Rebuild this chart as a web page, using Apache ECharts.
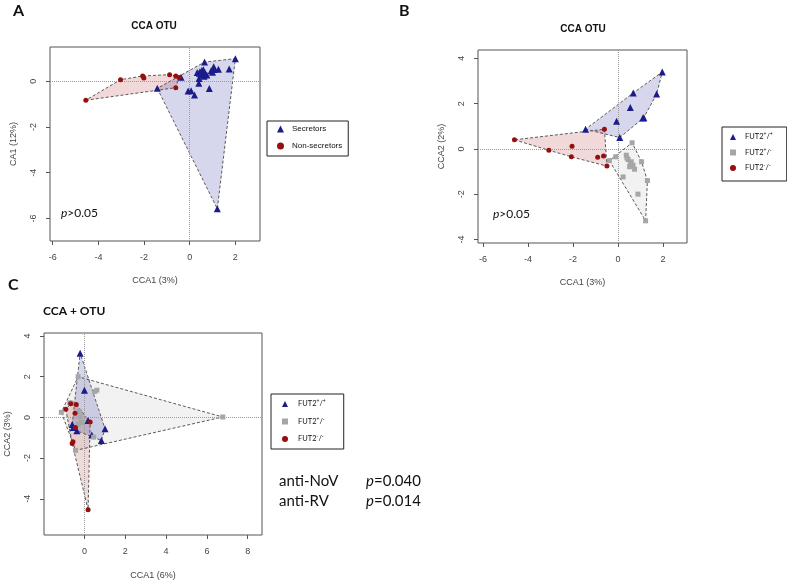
<!DOCTYPE html>
<html>
<head>
<meta charset="utf-8">
<script src="https://cdn.jsdelivr.net/npm/echarts@6/dist/echarts.min.js"></script>
<style>
  html, body { margin: 0; padding: 0; background: #fff; }
  #main { width: 787px; height: 581px; }
</style>
</head>
<body>
<div id="main"></div>
<script>
// ---- panel A: CCA OTU, secretor status ----
var secretorsA = [[2.0,0.99],[0.65,0.84],[-1.42,-0.31],[-0.38,0.18],[1.21,-5.58],[0.45,0.42],[0.53,0.47],
  [0.60,0.50],[0.42,0.35],[0.67,0.35],[0.75,0.28],[0.41,0.12],[0.40,-0.09],[-0.07,-0.43],[0.06,-0.41],
  [0.21,-0.60],[0.86,-0.32],[1.05,0.64],[1.08,0.52],[1.26,0.53],[1.0,0.40],[1.73,0.54],[0.94,0.46],
  [0.33,0.38],[0.52,0.28],[0.63,0.22],[0.57,0.38],[0.48,0.33]];
var nonSecretorsA = [[-4.55,-0.83],[-3.03,0.07],[-2.06,0.23],[-2.01,0.14],[-0.88,0.29],[-0.61,0.23],
  [-0.61,-0.28],[-0.47,0.17]];

// ---- panel B: CCA OTU, FUT2 genotype ----
var posPosB = [[1.97,3.40],[0.68,2.47],[1.72,2.42],[0.55,1.83],[-0.06,1.22],[1.11,1.37],[1.15,1.38],
  [0.08,0.50],[-1.44,0.87]];
var posNegB = [[0.63,0.27],[-0.38,-0.52],[-0.10,-0.35],[0.37,-0.28],[0.45,-0.47],[0.59,-0.57],[0.67,-0.72],
  [0.74,-0.90],[0.52,-0.79],[1.05,-0.57],[1.31,-1.40],[0.89,-2.0],[1.23,-3.18],[0.23,-1.24],[0.40,-0.40],
  [0.55,-0.65]];
var negNegB = [[-4.6,0.40],[-3.07,-0.06],[-2.04,0.12],[-2.07,-0.35],[-0.90,-0.37],[-0.64,-0.32],
  [-0.60,0.87],[-0.49,-0.76]];

// ---- panel C: CCA + OTU ----
var posPosC = [[-0.21,3.16],[0.0,1.33],[0.18,-0.15],[1.01,-0.56],[0.83,-1.13],[0.36,-0.87],[-0.60,-0.35],
  [-0.55,-0.50],[-0.37,-0.66]];
var posNegC = [[6.78,0.02],[-0.31,2.0],[0.61,1.34],[0.50,1.27],[-1.13,0.25],[-0.72,0.72],[-0.60,0.70],
  [-0.43,-1.62],[0.45,-0.97],[-0.21,0.02],[-0.15,-0.25],[-0.30,-0.35],[-0.25,0.30]];
var negNegC = [[0.18,-4.54],[-0.91,0.40],[-0.40,0.63],[-0.46,0.21],[0.28,-0.23],[-0.60,-1.28],
  [-0.56,-1.20],[-0.44,-0.50],[-0.67,0.67]];

// tick labels
var ticksAx = [-6,-4,-2,0,2], ticksAy = [-6,-4,-2,0];
var ticksBx = [-6,-4,-2,0,2], ticksBy = [-4,-2,0,2,4];
var ticksCx = [0,2,4,6,8],    ticksCy = [-4,-2,0,2,4];

var groupA = ['Secretors', 'Non-secretors'];
var groupFut = ['FUT2+/+', 'FUT2+/-', 'FUT2-/-'];
var statsC = [['anti-NoV', '0.040'], ['anti-RV', '0.014']];

var BLUE = '#1b1b8a', RED = '#960f0f', GREY = '#a6a6a6';
var AX = 'Liberation Sans', CAL = 'Lato';

// convex hull (monotone chain)
function hull(pts) {
  var p = pts.slice().sort(function (a, b) { return a[0] - b[0] || a[1] - b[1]; });
  function cross(o, a, b) { return (a[0]-o[0])*(b[1]-o[1]) - (a[1]-o[1])*(b[0]-o[0]); }
  var lo = [], up = [];
  p.forEach(function (q) {
    while (lo.length >= 2 && cross(lo[lo.length-2], lo[lo.length-1], q) <= 0) lo.pop();
    lo.push(q);
  });
  p.slice().reverse().forEach(function (q) {
    while (up.length >= 2 && cross(up[up.length-2], up[up.length-1], q) <= 0) up.pop();
    up.push(q);
  });
  lo.pop(); up.pop();
  return lo.concat(up);
}

function hullSeries(pts, idx, fill) {
  var h = hull(pts);
  return {
    type: 'custom', xAxisIndex: idx, yAxisIndex: idx, silent: true, z: 1,
    data: [h[0]],
    renderItem: function (params, api) {
      return {
        type: 'polygon',
        shape: { points: h.map(function (q) { return api.coord(q); }) },
        style: { fill: fill, stroke: '#5a5a5a', lineWidth: 1, lineDash: [3, 2] }
      };
    }
  };
}

function pts(name, data, idx, symbol, size, color, cross) {
  var s = {
    name: name, type: 'scatter', xAxisIndex: idx, yAxisIndex: idx, z: 3,
    symbol: symbol, symbolSize: size, data: data,
    itemStyle: { color: color, opacity: 1 }
  };
  if (cross) {
    s.markLine = {
      silent: true, symbol: 'none', label: { show: false }, z: 2,
      lineStyle: { color: '#9a9a9a', type: 'dotted', width: 1 },
      data: [{ xAxis: 0 }, { yAxis: 0 }]
    };
  }
  return s;
}

function xAx(idx, min, max, ticks, name, gap) {
  return {
    type: 'value', gridIndex: idx, min: min, max: max,
    name: name, nameLocation: 'middle', nameGap: gap,
    nameTextStyle: { fontFamily: AX, fontSize: 9, color: '#444' },
    axisLine: { show: false, onZero: false },
    splitLine: { show: false },
    axisTick: { show: true, customValues: ticks, length: 4, lineStyle: { color: '#555' } },
    axisLabel: { customValues: ticks, fontFamily: AX, fontSize: 9, color: '#444', margin: 12 }
  };
}
function yAx(idx, min, max, ticks, name, gap) {
  var a = xAx(idx, min, max, ticks, name, gap);
  a.axisLabel.rotate = 90;
  a.axisLabel.margin = 12;
  return a;
}

function futFmt(name) {
  var a = name.charAt(4), b = name.charAt(6);
  return '{b|FUT2}{s|' + (a === '+' ? '+' : '-') + '}{b|/}{s|' + (b === '+' ? '+' : '-') + '}';
}
var futRich = {
  b: { fontFamily: CAL, fontSize: 7.5, color: '#111', lineHeight: 10 },
  s: { fontFamily: CAL, fontSize: 5, color: '#111', verticalAlign: 'top', lineHeight: 6 }
};

var chart = echarts.init(document.getElementById('main'));
chart.setOption({
  animation: false,
  backgroundColor: '#fff',
  grid: [
    { left: 50, top: 47, width: 210, height: 194, show: true, borderColor: '#555', borderWidth: 1 },
    { left: 478, top: 50, width: 209, height: 193, show: true, borderColor: '#555', borderWidth: 1 },
    { left: 44, top: 333, width: 218, height: 202, show: true, borderColor: '#555', borderWidth: 1 }
  ],
  xAxis: [
    xAx(0, -6.12, 3.08, ticksAx, 'CCA1 (3%)', 35),
    xAx(1, -6.22, 3.07, ticksBx, 'CCA1 (3%)', 35),
    xAx(2, -1.98, 8.70, ticksCx, 'CCA1 (6%)', 36)
  ],
  yAxis: [
    yAx(0, -6.99, 1.50, ticksAy, 'CA1 (12%)', 32),
    yAx(1, -4.16, 4.37, ticksBy, 'CCA2 (2%)', 32),
    yAx(2, -5.78, 4.15, ticksCy, 'CCA2 (3%)', 32)
  ],
  legend: [
    {
      left: 267, top: 121, orient: 'vertical', data: groupA,
      borderColor: '#222', borderWidth: 1, padding: [4, 6, 6, 10], itemGap: 9,
      itemWidth: 7, itemHeight: 7, selectedMode: false,
      textStyle: { fontFamily: AX, fontSize: 8, color: '#111', padding: [0, 0, 0, 3] }
    },
    {
      left: 722, top: 127, orient: 'vertical', data: groupFut,
      borderColor: '#222', borderWidth: 1, padding: [5, 14, 9, 8], itemGap: 6.5,
      itemWidth: 6, itemHeight: 6, selectedMode: false, formatter: futFmt,
      textStyle: { padding: [0, 0, 0, 4], rich: futRich }
    },
    {
      left: 271, top: 394, orient: 'vertical', data: groupFut,
      borderColor: '#222', borderWidth: 1, padding: [5, 18, 6, 11], itemGap: 8.5,
      itemWidth: 6, itemHeight: 6, selectedMode: false, formatter: futFmt,
      textStyle: { padding: [0, 0, 0, 5], rich: futRich }
    }
  ],
  graphic: [
    { type: 'text', left: 13, top: 3, style: { text: 'A', font: 'bold 16px Lato', fill: '#111' } },
    { type: 'text', left: 399, top: 3, style: { text: 'B', font: 'bold 16px Lato', fill: '#111' } },
    { type: 'text', left: 8, top: 277, style: { text: 'C', font: 'bold 16px Lato', fill: '#111' } },
    { type: 'text', x: 154, y: 26, style: { text: 'CCA OTU', font: 'bold 10px "Liberation Sans"', fill: '#111', align: 'center', verticalAlign: 'middle' } },
    { type: 'text', x: 583, y: 29, style: { text: 'CCA OTU', font: 'bold 10px "Liberation Sans"', fill: '#111', align: 'center', verticalAlign: 'middle' } },
    { type: 'text', x: 43, y: 311, style: { text: 'CCA + OTU', font: 'bold 12px Lato', fill: '#111', verticalAlign: 'middle' } },
    { type: 'text', x: 61, y: 213, style: { text: '{i|p}>0.05', font: '12px Lato', fill: '#111', verticalAlign: 'middle', rich: { i: { fontStyle: 'italic', fontFamily: CAL, fontSize: 12, fill: '#111' } } } },
    { type: 'text', x: 493, y: 214, style: { text: '{i|p}>0.05', font: '12px Lato', fill: '#111', verticalAlign: 'middle', rich: { i: { fontStyle: 'italic', fontFamily: CAL, fontSize: 12, fill: '#111' } } } },
    { type: 'text', x: 279, y: 481, style: { text: statsC[0][0], font: '15px Lato', fill: '#111', verticalAlign: 'middle' } },
    { type: 'text', x: 366, y: 481, style: { text: '{i|p}=' + statsC[0][1], font: '15px Lato', fill: '#111', verticalAlign: 'middle', rich: { i: { fontStyle: 'italic', fontFamily: CAL, fontSize: 15, fill: '#111' } } } },
    { type: 'text', x: 279, y: 501, style: { text: statsC[1][0], font: '15px Lato', fill: '#111', verticalAlign: 'middle' } },
    { type: 'text', x: 366, y: 501, style: { text: '{i|p}=' + statsC[1][1], font: '15px Lato', fill: '#111', verticalAlign: 'middle', rich: { i: { fontStyle: 'italic', fontFamily: CAL, fontSize: 15, fill: '#111' } } } }
  ],
  series: [
    hullSeries(secretorsA, 0, 'rgba(0,0,139,0.16)'),
    hullSeries(nonSecretorsA, 0, 'rgba(160,0,0,0.15)'),
    pts(groupA[0], secretorsA, 0, 'triangle', 7, BLUE, true),
    pts(groupA[1], nonSecretorsA, 0, 'circle', 5, RED),

    hullSeries(posPosB, 1, 'rgba(0,0,139,0.16)'),
    hullSeries(posNegB, 1, 'rgba(128,128,128,0.1)'),
    hullSeries(negNegB, 1, 'rgba(160,0,0,0.15)'),
    pts(groupFut[0], posPosB, 1, 'triangle', 7, BLUE, true),
    pts(groupFut[1], posNegB, 1, 'rect', 5, GREY),
    pts(groupFut[2], negNegB, 1, 'circle', 5, RED),

    hullSeries(posNegC, 2, 'rgba(128,128,128,0.1)'),
    hullSeries(negNegC, 2, 'rgba(160,0,0,0.15)'),
    hullSeries(posPosC, 2, 'rgba(0,0,139,0.16)'),
    pts(groupFut[0], posPosC, 2, 'triangle', 7, BLUE, true),
    pts(groupFut[1], posNegC, 2, 'rect', 5, GREY),
    pts(groupFut[2], negNegC, 2, 'circle', 5, RED)
  ]
});
</script>
</body>
</html>
